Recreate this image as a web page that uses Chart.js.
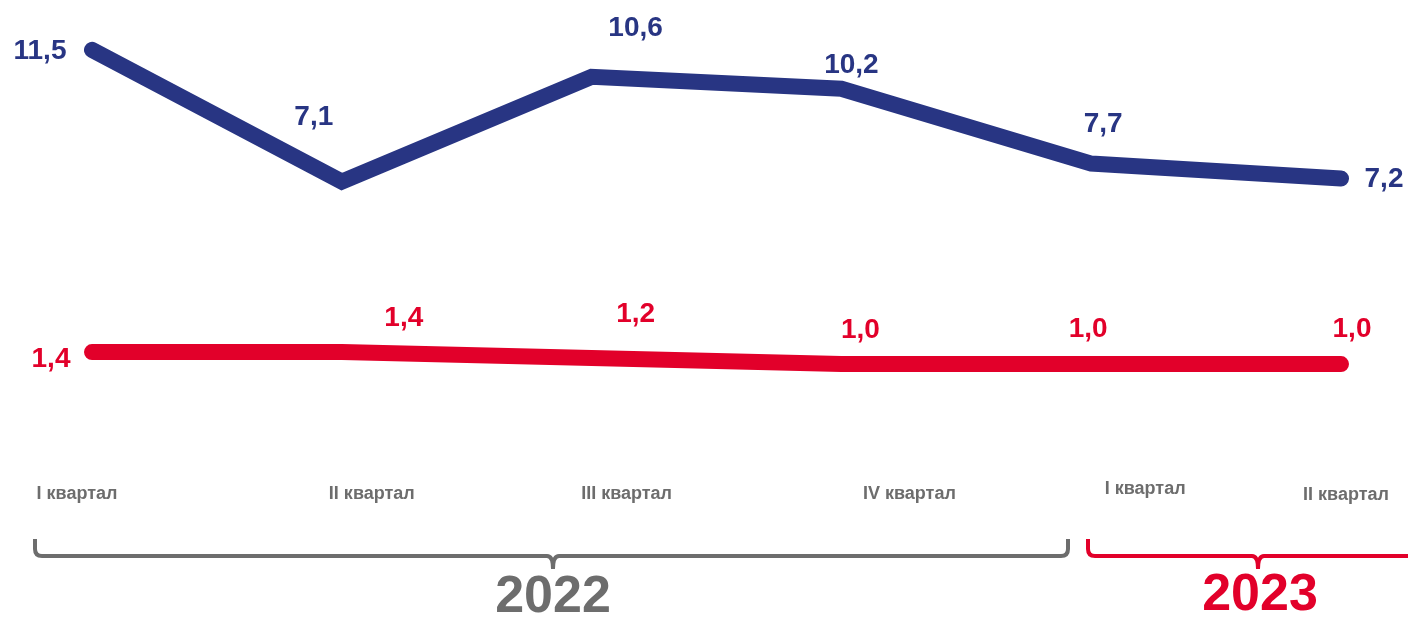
<!DOCTYPE html>
<html>
<head>
<meta charset="utf-8">
<script src="https://cdn.jsdelivr.net/npm/chart.js@4"></script>
<style>
  html, body { margin: 0; padding: 0; background: #fff; }
  #wrap { width: 1408px; height: 620px; position: relative; }
</style>
</head>
<body>
<div id="wrap"><canvas id="chart"></canvas></div>
<script>
// данные
const quarters = ['I квартал', 'II квартал', 'III квартал', 'IV квартал', 'I квартал', 'II квартал'];
const years = ['2022', '2023'];
const seriesTop = [11.5, 7.1, 10.6, 10.2, 7.7, 7.2];
const seriesBottom = [1.4, 1.4, 1.2, 1.0, 1.0, 1.0];

const BLUE = '#283583';
const RED = '#e2002a';
const GRAY = '#6d6d6d';
const FONT = '"Liberation Sans", Arial, sans-serif';

// смещения подписей значений относительно точки
const offTop = [[-52, 1], [-28, -64], [44, -49], [10, -24], [12, -39], [43, 1]];
const offBottom = [[-41, 7], [62, -34], [44, -44], [19, -34], [-3, -35], [11, -35]];
// смещения подписей кварталов
const tickDx = [-15, 30, 35, 68, 54, 5];
const tickY = [494, 494, 494, 494, 489, 495];

const fmt = v => v.toFixed(1).replace('.', ',');

const labelsPlugin = {
  id: 'labels',
  afterDatasetsDraw(chart) {
    const ctx = chart.ctx;
    ctx.save();
    ctx.textAlign = 'center';
    ctx.textBaseline = 'middle';
    ctx.font = 'bold 28px ' + FONT;
    chart.data.datasets.forEach((ds, di) => {
      const meta = chart.getDatasetMeta(di);
      const offs = di === 0 ? offTop : offBottom;
      ctx.fillStyle = ds.borderColor;
      meta.data.forEach((pt, i) => {
        ctx.fillText(fmt(ds.data[i]), pt.x + offs[i][0], pt.y + offs[i][1]);
      });
    });

    // подписи кварталов
    const xs = chart.scales.x;
    ctx.fillStyle = GRAY;
    ctx.font = 'bold 18px ' + FONT;
    quarters.forEach((q, i) => {
      ctx.fillText(q, xs.getPixelForValue(i) + tickDx[i], tickY[i]);
    });

    // фигурные скобки
    ctx.lineWidth = 4;
    ctx.lineCap = 'butt';
    ctx.lineJoin = 'round';
    function brace(x1, x2, xc, color) {
      ctx.strokeStyle = color;
      ctx.beginPath();
      ctx.moveTo(x1, 539);
      ctx.lineTo(x1, 549);
      ctx.quadraticCurveTo(x1, 556, x1 + 7, 556);
      ctx.lineTo(xc - 6, 556);
      ctx.quadraticCurveTo(xc, 556, xc, 569);
      ctx.moveTo(xc, 569);
      ctx.quadraticCurveTo(xc, 556, xc + 6, 556);
      if (x2 > 1408) {
        ctx.lineTo(x2, 556);
      } else {
        ctx.lineTo(x2 - 7, 556);
        ctx.quadraticCurveTo(x2, 556, x2, 549);
        ctx.lineTo(x2, 539);
      }
      ctx.stroke();
    }
    brace(35, 1068, 553, GRAY);
    brace(1088, 1420, 1258, RED);

    ctx.font = 'bold 52px ' + FONT;
    ctx.fillStyle = GRAY;
    ctx.fillText(years[0], 553, 598);
    ctx.fillStyle = RED;
    ctx.fillText(years[1], 1260, 596);
    ctx.restore();
  }
};

new Chart(document.getElementById('chart'), {
  type: 'line',
  data: {
    labels: quarters,
    datasets: [
      {
        data: seriesTop,
        borderColor: BLUE,
        borderWidth: 16,
        borderCapStyle: 'round',
        borderJoinStyle: 'miter',
        pointRadius: 0,
        tension: 0
      },
      {
        data: seriesBottom,
        borderColor: RED,
        borderWidth: 16,
        borderCapStyle: 'round',
        borderJoinStyle: 'miter',
        pointRadius: 0,
        tension: 0
      }
    ]
  },
  options: {
    responsive: true,
    maintainAspectRatio: false,
    animation: false,
    layout: { padding: { left: 92, right: 67, top: 5, bottom: 226 } },
    plugins: { legend: { display: false }, tooltip: { enabled: false } },
    scales: {
      x: { display: false, offset: false },
      y: { display: false, min: 0, max: 13 }
    }
  },
  plugins: [labelsPlugin]
});
</script>
</body>
</html>
